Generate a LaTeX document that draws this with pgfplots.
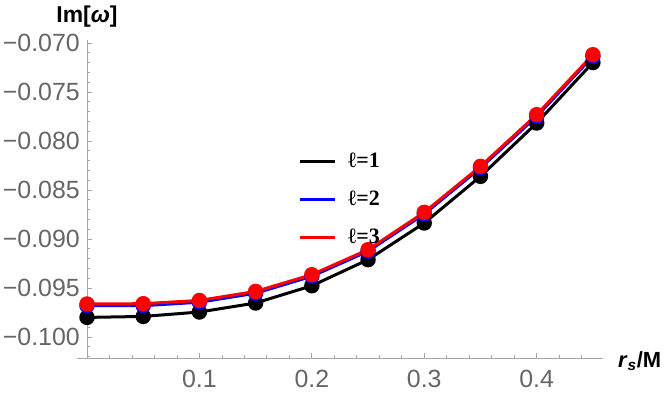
\documentclass[border=0pt]{standalone}
\usepackage{fontspec}
\setmainfont{Liberation Sans}
\newfontfamily\legfont{Liberation Serif}
\usepackage{pgfplots}
\pgfplotsset{compat=1.18}
\definecolor{axgray}{gray}{0.65}
\definecolor{lblgray}{gray}{0.4}
\begin{document}
\begin{tikzpicture}
\begin{axis}[
  scale only axis, width=516bp, height=318bp,
  xmin=0, xmax=0.459, ymin=-0.10214, ymax=-0.0697,
  axis lines*=left, clip=false,
  axis line style={axgray, line width=0.8bp},
  tick align=inside,
  major tick length=5bp, minor tick length=3bp,
  tick style={axgray, line width=0.8bp},
  xtick={0.1,0.2,0.3,0.4},
  xticklabels={0.1,0.2,0.3,0.4},
  minor xtick={0.02,0.04,0.06,0.08,0.12,0.14,0.16,0.18,0.22,0.24,0.26,0.28,0.32,0.34,0.36,0.38,0.42,0.44},
  ytick={-0.100,-0.095,-0.090,-0.085,-0.080,-0.075,-0.070},
  yticklabels={−0.100,−0.095,−0.090,−0.085,−0.080,−0.075,−0.070},
  minor ytick={-0.102,-0.101,-0.099,-0.098,-0.097,-0.096,-0.094,-0.093,-0.092,-0.091,-0.089,-0.088,-0.087,-0.086,-0.084,-0.083,-0.082,-0.081,-0.079,-0.078,-0.077,-0.076,-0.074,-0.073,-0.072,-0.071},
  ticklabel style={font=\fontsize{25}{28}\selectfont, text=lblgray, inner sep=0pt},
  xticklabel style={anchor=north, yshift=-12bp},
  yticklabel style={anchor=east, xshift=-7bp},
  xlabel={\textbf{\textit{r}\textsubscript{\textit{s}}/M}},
  xlabel style={at={(rel axis cs:1,0)}, anchor=base west, inner sep=0pt, xshift=15bp, yshift=-9bp, font=\fontsize{22}{24}\selectfont},
  ylabel={\textbf{Im[\textit{ω}]}},
  ylabel style={at={(rel axis cs:0,1)}, anchor=base, rotate=-90, inner sep=0pt, yshift=17bp, font=\fontsize{23}{26}\selectfont},
  legend style={at={(0.409,0.645)}, anchor=north west, draw=none, fill=none, inner sep=0pt,
    nodes={inner sep=0pt},
    font=\legfont\bfseries\fontsize{22}{24}\selectfont, row sep=22bp,
    /tikz/every odd column/.append style={column sep=12bp}},
  legend cell align=left,
  legend image code/.code={\draw[#1, line width=3bp] (0bp,0bp) -- (35bp,0bp);},
  every axis plot/.append style={line width=3bp, mark=*, mark size=6.2bp},
]
\coordinate (ll) at (rel axis cs:0,0);
\coordinate (ur) at (rel axis cs:1,1);
\draw[axgray, line width=0.8bp] (axis cs:0,-0.10214) -- ([xshift=-10bp]axis cs:0,-0.10214);
\addplot[color=black, mark options={fill=black, draw=black}] coordinates {
  (0,-0.0980)(0.05,-0.0979)(0.1,-0.09745)(0.15,-0.09653)(0.2,-0.09477)
  (0.25,-0.09211)(0.3,-0.08837)(0.35,-0.08361)(0.4,-0.07817)(0.45,-0.07200)
};
\addlegendentry{ℓ=1}
\addplot[color=blue, mark options={fill=blue, draw=blue}] coordinates {
  (0,-0.0968)(0.05,-0.0968)(0.1,-0.09645)(0.15,-0.09553)(0.2,-0.0938)
  (0.25,-0.09125)(0.3,-0.08745)(0.35,-0.08275)(0.4,-0.0775)(0.45,-0.07136)
};
\addlegendentry{ℓ=2}
\addplot[color=red, mark options={fill=red, draw=red}] coordinates {
  (0,-0.09663)(0.05,-0.0966)(0.1,-0.09627)(0.15,-0.09535)(0.2,-0.09364)
  (0.25,-0.09109)(0.3,-0.08728)(0.35,-0.08259)(0.4,-0.07732)(0.45,-0.07120)
};
\addlegendentry{ℓ=3}
\end{axis}
\pgfresetboundingbox
\path[use as bounding box] ([shift={(-87bp,-37bp)}]ll) rectangle ([shift={(61bp,40bp)}]ur);
\end{tikzpicture}
\end{document}
